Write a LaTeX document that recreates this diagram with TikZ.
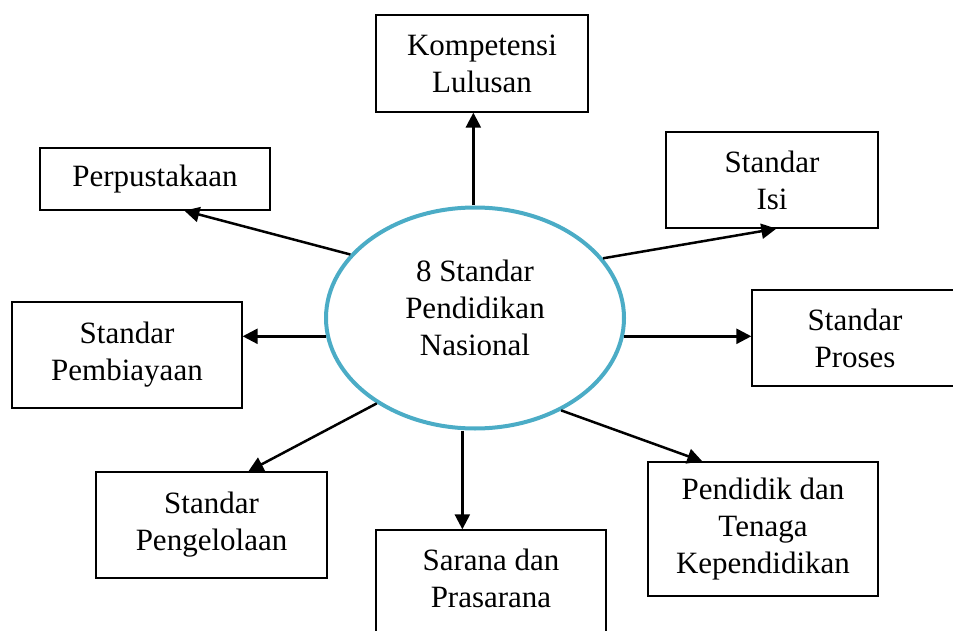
\documentclass[tikz,border=0pt]{standalone}
\usepackage{fontspec}
\setmainfont{Liberation Serif}
\usetikzlibrary{arrows.meta,shapes.geometric,calc}
\definecolor{ringblue}{RGB}{75,172,198}
\begin{document}
\begin{tikzpicture}[x=1pt,y=-1pt,
  box/.style={draw=black,line width=1.3pt,rectangle,inner sep=0pt,align=center,
    font=\fontsize{31}{37}\selectfont},
  lbl/.style={inner sep=0pt,align=center,font=\fontsize{31}{37}\selectfont},
  arr/.style={draw=black,line width=2.5pt,-{Triangle[length=15pt,width=15pt]}}]
\useasboundingbox (0,0) rectangle (953,631);
\clip (0,0) rectangle (953,631);
% centre ellipse
\node[ellipse,draw=ringblue,line width=4pt,minimum width=298pt,minimum height=221pt,inner sep=0pt] (c) at (475,318) {};
\node[lbl] (ctxt) at (475,308) {8 Standar\\Pendidikan\\Nasional};
% boxes
\node[box,minimum width=212pt,minimum height=97pt] (komp) at (482,63.5) {Kompetensi\\Lulusan};
\node[box,minimum width=212pt,minimum height=96pt] (isi) at (772,180) {Standar\\Isi};
\node[box,minimum width=206pt,minimum height=96pt] (proses) at (855,338) {Standar\\Proses};
\node[box,minimum width=230pt,minimum height=134pt] (pend) at (763,529) {Pendidik dan\\Tenaga\\Kependidikan};
\node[box,minimum width=230pt,minimum height=110pt] (sarana) at (491,585) {};
\node[lbl] (saranatxt) at (491,578) {Sarana dan\\Prasarana};
\node[box,minimum width=231pt,minimum height=106pt] (peng) at (211.5,525) {Standar\\Pengelolaan};
\node[box,minimum width=230pt,minimum height=106pt] (pemb) at (127,355) {Standar\\Pembiayaan};
\node[box,minimum width=230pt,minimum height=62pt] (perp) at (155,179) {Perpustakaan};
% connector end points
\coordinate (ekomp) at ($(komp.south west)+(98,0)$);
\coordinate (eisi) at ($(isi.south west)+(111,0)$);
\coordinate (epend) at ($(pend.north west)+(55,0)$);
\coordinate (esar) at ($(sarana.north west)+(87,0)$);
\coordinate (epeng) at ($(peng.north west)+(153,0)$);
\coordinate (eperp) at ($(perp.south west)+(145,0)$);
% connectors
\draw[arr] (ekomp |- c.north) -- (ekomp);
\draw[arr] (c.25.5) -- (eisi);
\draw[arr] (c.-7.5) -- (c.-7.5 -| proses.west);
\draw[arr] (c.-47.3) -- (epend);
\draw[arr] (esar |- c.south) -- (esar);
\draw[arr] (c.221.2) -- (epeng);
\draw[arr] (c.187) -- (c.187 -| pemb.east);
\draw[arr] (c.153.8) -- (eperp);
\end{tikzpicture}
\end{document}
